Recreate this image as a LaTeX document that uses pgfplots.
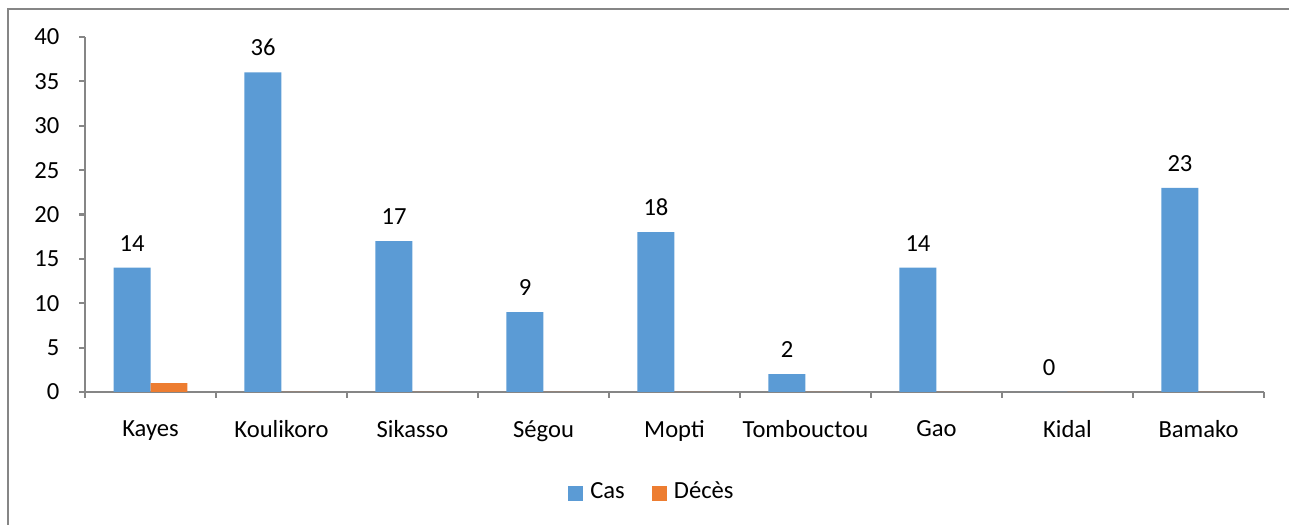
\documentclass[border=0pt]{standalone}
\usepackage{pgfplots}
\pgfplotsset{compat=1.18}
\usepackage{fontspec}
\setmainfont{Carlito}
\definecolor{cas}{HTML}{5B9BD5}
\definecolor{deces}{HTML}{ED7D31}
\definecolor{axgray}{HTML}{868686}
\begin{document}
\begin{tikzpicture}
\useasboundingbox (0,0) rectangle (12.89,5.25);
\draw[axgray, line width=0.02cm] (0.08,-0.1) -- (0.08,5.16) -- (13,5.16);
\begin{axis}[
  at={(0.85cm,1.33cm)}, anchor=south west,
  scale only axis, width=11.79cm, height=3.55cm,
  ybar=0pt, bar width=0.37cm,
  xmin=-0.5, xmax=8.5, ymin=0, ymax=40,
  ytick={0,5,...,40},
  xtick={0,...,8},
  xticklabels={Kayes,Koulikoro,Sikasso,Ségou,Mopti,Tombouctou,Gao,Kidal,Bamako},
  minor xtick={-0.5,0.5,...,8.5},
  axis x line*=bottom, axis y line*=left,
  axis line style={axgray, line width=0.6pt, -},
  tick style={axgray, line width=0.6pt},
  major tick length=0.06cm, minor tick length=0.06cm,
  tick align=outside,
  x tick style={draw=none}, minor x tick style={axgray, draw=axgray},
  /pgf/number format/assume math mode=true,
  tick label style={font=\fontsize{7}{8.4}\selectfont, text=black},
  yticklabel style={inner sep=0pt, xshift=-0.19cm},
  xticklabel style={inner sep=0pt, yshift=-0.22cm},
  legend style={at={(0.483,-0.285)}, anchor=center, draw=none, legend columns=2,
    font=\fontsize{7}{8.4}\selectfont, /tikz/every even column/.append style={column sep=0.2cm}},
  legend image code/.code={\fill[#1] (0cm,-0.075cm) rectangle (0.15cm,0.075cm);},
]
\addplot[fill=cas, draw=none, nodes near coords,
  every node near coord/.append style={font=\fontsize{7}{8.4}\selectfont, text=black, inner sep=0pt, anchor=south, yshift=0.16cm}]
  coordinates {(0,14) (1,36) (2,17) (3,9) (4,18) (5,2) (6,14) (7,0) (8,23)};
\addlegendentry{Cas}
\addplot[fill=deces, draw=none]
  coordinates {(0,1) (1,0) (2,0) (3,0) (4,0) (5,0) (6,0) (7,0) (8,0)};
\addlegendentry{Décès}
\end{axis}
\end{tikzpicture}
\end{document}
